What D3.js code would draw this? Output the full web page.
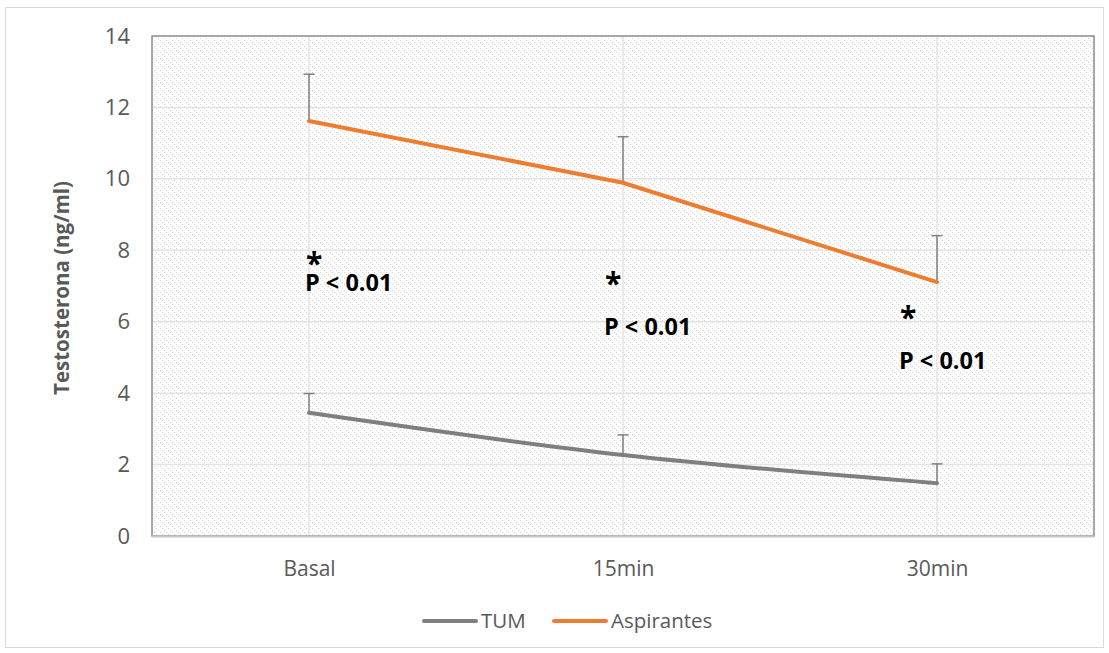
<!DOCTYPE html>
<html><head><meta charset="utf-8">
<script src="https://cdn.jsdelivr.net/npm/d3@7"></script>
<style>body{margin:0;background:#fff}svg{display:block}text{font-family:"Open Sans","Liberation Sans",sans-serif}</style>
</head><body><svg id="c" width="1109" height="653"></svg>
<script>
const categories = ["Basal", "15min", "30min"];
const tumValues = [3.45, 2.27, 1.48];
const tumErrUpper = [3.99, 2.83, 2.02];
const aspValues = [11.62, 9.89, 7.11];
const aspErrUpper = [12.93, 11.18, 8.41];
const yTicks = [0, 2, 4, 6, 8, 10, 12, 14];
const seriesNames = ["TUM", "Aspirantes"];
const annotationCats = ["Basal", "15min", "30min"];
const annotationStarValues = [7.7, 7.13, 6.2];
const annotationPValues = [6.86, 5.63, 4.68];
const annotationLabel = "P < 0.01";

// layout
const annotationDx = [-4, -19, -38];

const svg = d3.select("#c");
const m = {left: 152, top: 36, right: 1094, bottom: 536};
const x = d3.scalePoint().domain(categories).range([m.left, m.right]).padding(0.5);
const y = d3.scaleLinear().domain([0, 14]).range([m.bottom, m.top]);

// outer border
svg.append("rect").attr("x", 5.5).attr("y", 7.5).attr("width", 1098).attr("height", 640)
  .attr("fill", "#fff").attr("stroke", "#d9d9d9").attr("stroke-width", 1);

// hatch pattern: dotted diagonal lines
const defs = svg.append("defs");
const pat = defs.append("pattern").attr("id", "hatch").attr("patternUnits", "userSpaceOnUse")
  .attr("x", 0).attr("y", 0).attr("width", 6).attr("height", 6);
pat.append("rect").attr("width", 6).attr("height", 6).attr("fill", "#fff");
[0, 2, 4].forEach(k => pat.append("rect").attr("x", k).attr("y", k).attr("width", 1).attr("height", 1)
  .attr("fill", "#d3d3d3").attr("shape-rendering", "crispEdges"));

svg.append("rect").attr("x", m.left).attr("y", m.top).attr("width", m.right - m.left)
  .attr("height", m.bottom - m.top).attr("fill", "url(#hatch)");

// gridlines
svg.append("g").selectAll("line").data(yTicks.filter(d => d > 0 && d < 14)).join("line")
  .attr("x1", m.left).attr("x2", m.right).attr("y1", d => y(d)).attr("y2", d => y(d))
  .attr("stroke", "#e4e4e4").attr("stroke-width", 1.5);
svg.append("g").selectAll("line").data(categories).join("line")
  .attr("x1", d => x(d)).attr("x2", d => x(d)).attr("y1", m.top).attr("y2", m.bottom)
  .attr("stroke", "#e4e4e4").attr("stroke-width", 1.5);

// plot border
svg.append("rect").attr("x", m.left).attr("y", m.top).attr("width", m.right - m.left)
  .attr("height", m.bottom - m.top).attr("fill", "none").attr("stroke", "#8c8c8c").attr("stroke-width", 1.5);
svg.append("line").attr("x1", m.left).attr("x2", m.right).attr("y1", m.bottom + 0.5).attr("y2", m.bottom + 0.5)
  .attr("stroke", "#c8c8c8").attr("stroke-width", 2);

// y axis
const yAxis = d3.axisLeft(y).tickValues(yTicks).tickSize(0).tickPadding(22);
const gy = svg.append("g").attr("transform", `translate(${m.left},0)`).call(yAxis);
gy.select(".domain").remove();
gy.selectAll("text").attr("fill", "#595959").attr("font-size", 22);

// x axis
const xAxis = d3.axisBottom(x).tickSize(0).tickPadding(25);
const gx = svg.append("g").attr("transform", `translate(0,${m.bottom})`).call(xAxis);
gx.select(".domain").remove();
gx.selectAll("text").attr("fill", "#595959").attr("font-size", 21);

// y title
svg.append("text").attr("transform", `translate(69,288) rotate(-90)`).attr("text-anchor", "middle")
  .attr("fill", "#595959").attr("font-size", 20.5).attr("font-weight", "bold").text("Testosterona (ng/ml)");

// error bars
function errBars(vals, ups) {
  const g = svg.append("g");
  categories.forEach((c, i) => {
    g.append("line").attr("x1", x(c)).attr("x2", x(c)).attr("y1", y(vals[i])).attr("y2", y(ups[i]))
      .attr("stroke", "#808080").attr("stroke-width", 1.5);
    g.append("line").attr("x1", x(c) - 5.5).attr("x2", x(c) + 5.5).attr("y1", y(ups[i])).attr("y2", y(ups[i]))
      .attr("stroke", "#808080").attr("stroke-width", 1.5);
  });
}
errBars(tumValues, tumErrUpper);
errBars(aspValues, aspErrUpper);

// lines
const lineTum = d3.line().x((d, i) => x(categories[i])).y(d => y(d)).curve(d3.curveMonotoneX);
const lineAsp = d3.line().x((d, i) => x(categories[i])).y(d => y(d));
svg.append("path").datum(tumValues).attr("d", lineTum).attr("fill", "none")
  .attr("stroke", "#7f7f7f").attr("stroke-width", 4).attr("stroke-linecap", "round");
svg.append("path").datum(aspValues).attr("d", lineAsp).attr("fill", "none")
  .attr("stroke", "#ed7d31").attr("stroke-width", 4).attr("stroke-linecap", "round");

// annotations (star + label in a single text element)
annotationCats.forEach((c, i) => {
  const x0 = x(c) + annotationDx[i];
  const t = svg.append("text").attr("font-weight", "bold").attr("fill", "#000");
  t.append("tspan").attr("x", x0 + 1).attr("y", y(annotationStarValues[i]) + 13)
    .attr("font-size", 30).text("*");
  t.append("tspan").attr("x", x0).attr("y", y(annotationPValues[i]))
    .attr("font-size", 23.5).text(annotationLabel);
});

// legend
const legendColors = ["#7f7f7f", "#ed7d31"];
const legendX = [424, 554];
seriesNames.forEach((n, i) => {
  svg.append("line").attr("x1", legendX[i]).attr("x2", legendX[i] + 52).attr("y1", 621).attr("y2", 621)
    .attr("stroke", legendColors[i]).attr("stroke-width", 4).attr("stroke-linecap", "round");
  svg.append("text").attr("x", legendX[i] + 57).attr("y", 628).attr("font-size", 20.5).attr("fill", "#595959").text(n);
});
</script></body></html>
